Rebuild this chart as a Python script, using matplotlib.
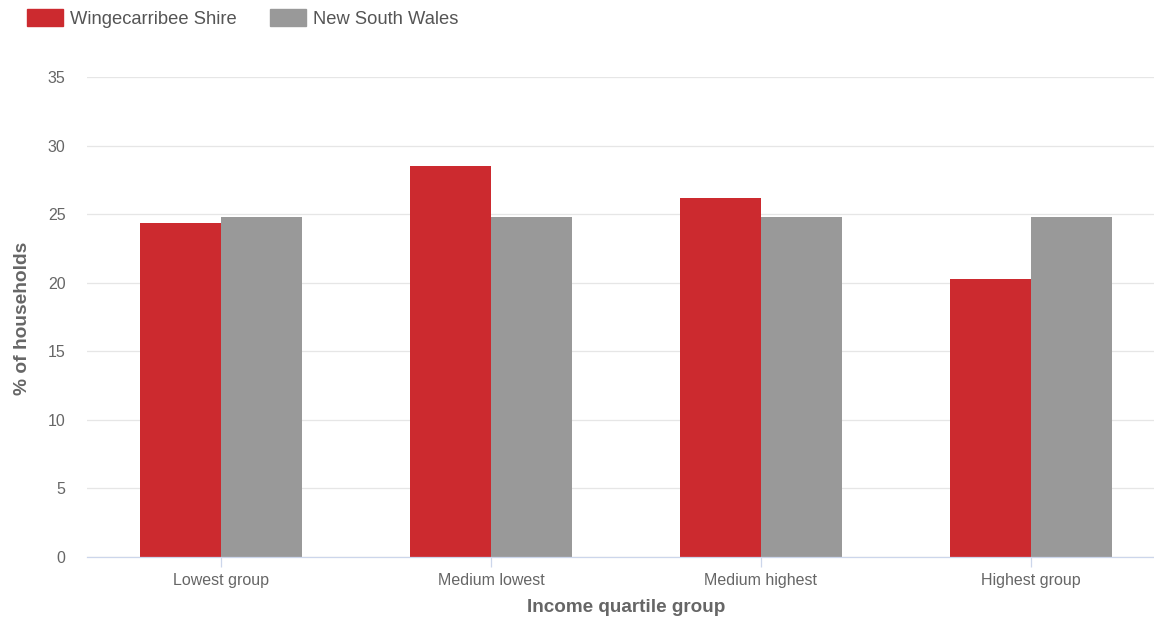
import matplotlib
matplotlib.use("Agg")
import matplotlib.pyplot as plt
from matplotlib.patches import Rectangle
import numpy as np

categories = ["Lowest group", "Medium lowest", "Medium highest", "Highest group"]
wingecarribee = [24.4, 28.5, 26.2, 20.3]
nsw = [24.8, 24.8, 24.8, 24.8]
series_names = ["Wingecarribee Shire", "New South Wales"]
yticks = [0, 5, 10, 15, 20, 25, 30, 35]

plt.rcParams['font.family'] = ['Liberation Sans', 'DejaVu Sans']

W, H = 1154, 620
fig = plt.figure(figsize=(W / 100, H / 100), dpi=100)
ax = fig.add_axes([87 / W, (H - 557) / H, (1154 - 87) / W, (557 - 77.3) / H])

x = np.arange(len(categories))
bw = 0.3
red = "#cc2a2f"
grey = "#999999"
colors = [red, grey]
ax.bar(x - bw / 2, wingecarribee, width=bw, color=red, label=series_names[0], zorder=3)
ax.bar(x + bw / 2, nsw, width=bw, color=grey, label=series_names[1], zorder=3)

ax.set_xlim(-134 / 270, -134 / 270 + 1067 / 270)
ax.set_ylim(0, 35)
ax.set_yticks(yticks)
ax.set_yticklabels([str(v) for v in yticks])
ax.set_xticks(x)
ax.set_xticklabels(categories)

ax.grid(axis='y', color='#e6e6e6', linewidth=0.9, zorder=0)
ax.grid(axis='x', visible=False)
for s in ['top', 'right', 'left']:
    ax.spines[s].set_visible(False)
ax.spines['bottom'].set_color('#ccd6eb')
ax.spines['bottom'].set_linewidth(0.9)
ax.spines['bottom'].set_zorder(4)

ax.tick_params(axis='y', length=0, pad=15.5, labelsize=11.5, labelcolor='#666666')
ax.tick_params(axis='x', length=7.2, width=0.9, color='#ccd6eb', pad=4.2,
               labelsize=11.5, labelcolor='#666666')

fig.text(626 / W, 1 - 608 / H, "Income quartile group", ha='center', va='center',
         fontsize=13.6, fontweight='bold', color='#666666')
fig.text(23 / W, 1 - 318 / H, "% of households", ha='center', va='center',
         rotation=90, fontsize=13.8, fontweight='bold', color='#666666')

# legend
leg_x = [27, 270]
for i, name in enumerate(series_names):
    fig.add_artist(Rectangle((leg_x[i] / W, 1 - 26 / H), 36 / W, 17 / H,
                             transform=fig.transFigure, color=colors[i]))
    fig.text((leg_x[i] + 43) / W, 1 - 20 / H, name, ha='left', va='center',
             fontsize=13.2, color='#555555')

fig.savefig("out.png", dpi=100)
